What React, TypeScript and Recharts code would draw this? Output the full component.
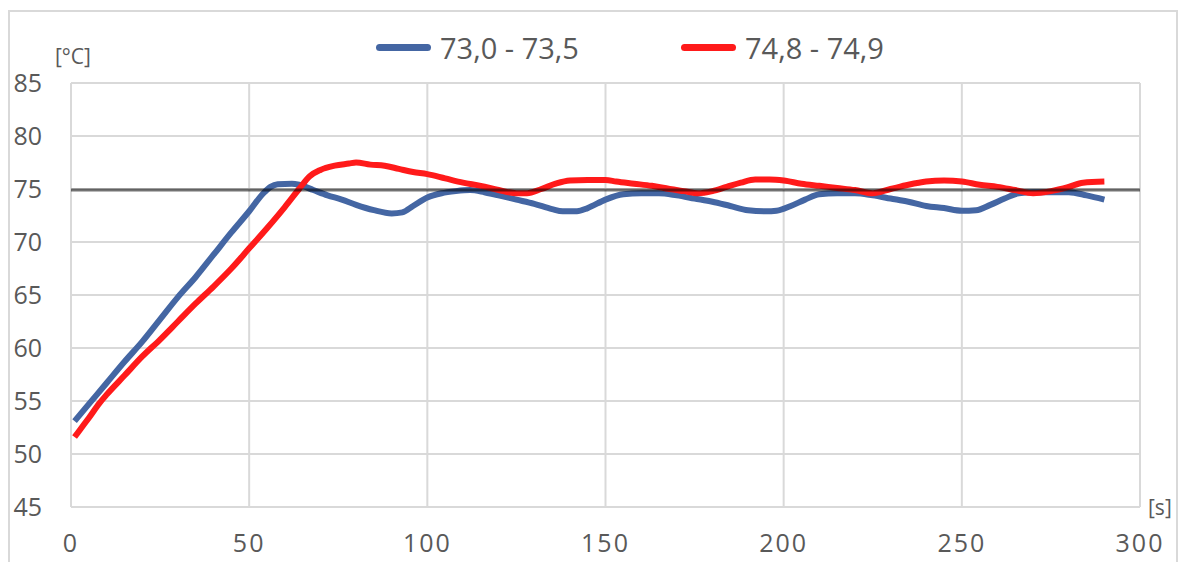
import { LineChart, Line, XAxis, YAxis, CartesianGrid } from 'recharts';

// time [s] and temperature [°C]
const blueTimes = [1, 5, 10, 15, 20, 25, 30, 35, 40, 45, 50, 54, 56, 58, 62, 64, 68, 72, 76, 80, 85, 90, 93, 96, 100, 104, 108, 112, 116, 120, 125, 130, 135, 138, 142, 145, 150, 155, 160, 165, 170, 175, 180, 185, 190, 195, 198, 202, 206, 210, 215, 220, 225, 230, 235, 240, 245, 250, 254, 258, 262, 266, 270, 275, 280, 285, 290];
const blueValues = [53.1, 54.7, 56.7, 58.7, 60.6, 62.7, 64.8, 66.7, 68.8, 70.9, 72.9, 74.6, 75.2, 75.45, 75.5, 75.4, 74.9, 74.4, 74.0, 73.5, 73.0, 72.7, 72.8, 73.4, 74.2, 74.6, 74.8, 74.9, 74.7, 74.4, 74.0, 73.6, 73.1, 72.9, 72.9, 73.2, 74.0, 74.5, 74.6, 74.6, 74.4, 74.1, 73.8, 73.4, 73.0, 72.9, 72.95, 73.4, 74.0, 74.5, 74.6, 74.6, 74.4, 74.1, 73.8, 73.4, 73.2, 72.95, 73.0, 73.5, 74.1, 74.6, 74.7, 74.7, 74.7, 74.4, 74.0];

const redTimes = [1, 3, 5, 8, 10, 15, 20, 25, 30, 35, 40, 45, 50, 55, 60, 64, 67, 70, 74, 78, 80, 84, 88, 92, 96, 100, 105, 110, 115, 120, 125, 128, 132, 136, 140, 145, 150, 153, 158, 163, 168, 172, 176, 180, 184, 188, 192, 196, 200, 205, 210, 215, 220, 225, 230, 235, 240, 245, 250, 255, 260, 265, 270, 275, 280, 284, 290];
const redValues = [51.6, 52.5, 53.4, 54.8, 55.6, 57.4, 59.2, 60.8, 62.5, 64.2, 65.8, 67.5, 69.4, 71.3, 73.3, 75.0, 76.2, 76.8, 77.2, 77.4, 77.5, 77.3, 77.2, 76.9, 76.6, 76.4, 76.0, 75.6, 75.3, 74.9, 74.6, 74.6, 75.0, 75.5, 75.8, 75.85, 75.85, 75.7, 75.5, 75.3, 75.0, 74.8, 74.6, 74.8, 75.2, 75.6, 75.9, 75.9, 75.8, 75.5, 75.3, 75.1, 74.9, 74.6, 75.0, 75.4, 75.7, 75.8, 75.7, 75.4, 75.2, 74.9, 74.6, 74.8, 75.2, 75.6, 75.7];

const setpointTimes = [0, 300];
const setpointValue = 74.9;

const xTicks = [0, 50, 100, 150, 200, 250, 300];
const yTicks = [45, 50, 55, 60, 65, 70, 75, 80, 85];

const series = [
  { name: '73,0 - 73,5', color: '#4466A3', times: blueTimes, values: blueValues },
  { name: '74,8 - 74,9', color: '#FF1A1A', times: redTimes, values: redValues },
];

const FONT = '"Open Sans", "Noto Sans", sans-serif';
const TEXT = '#595959';

export default function App() {
  const setpoint = setpointTimes.map((t) => ({ t, v: setpointValue }));
  return (
    <div style={{ position: 'absolute', left: 0, top: 0, width: 1181, height: 562, overflow: 'hidden', background: '#fff', fontFamily: FONT }}>
      <div style={{ position: 'absolute', left: 8, top: 10, width: 1170, height: 620, border: '2px solid #d9d9d9', boxSizing: 'border-box' }} />
      {/* legend */}
      {series.map((s, i) => (
        <div key={s.name} style={{ position: 'absolute', left: i === 0 ? 376 : 681, top: 28, display: 'flex', alignItems: 'center', height: 38 }}>
          <span style={{ width: 55, height: 7, borderRadius: 4, background: s.color, display: 'inline-block' }} />
          <span style={{ marginLeft: 9, fontSize: 29, color: TEXT }}>{s.name}</span>
        </div>
      ))}
      <div style={{ position: 'absolute', left: 55, top: 42, fontSize: 21, color: TEXT }}>[°C]</div>
      <div style={{ position: 'absolute', left: 1148, top: 493, fontSize: 21, color: TEXT }}>[s]</div>
      <div style={{ position: 'absolute', left: 0, top: 0 }}>
        <LineChart width={1181} height={562} margin={{ top: 83, right: 41, bottom: 15, left: 11 }}>
          <CartesianGrid stroke="#d9d9d9" strokeWidth={2} />
          <XAxis
            type="number"
            dataKey="t"
            domain={[0, 300]}
            ticks={xTicks}
            allowDuplicatedCategory={false}
            axisLine={false}
            tickLine={false}
            tickSize={0}
            tickMargin={27}
            height={40}
            tick={{ fill: TEXT, fontSize: 25, fontFamily: FONT, letterSpacing: 2 }}
          />
          <YAxis
            type="number"
            domain={[45, 85]}
            ticks={yTicks}
            axisLine={false}
            tickLine={false}
            tickSize={0}
            tickMargin={29}
            width={60}
            tick={{ fill: TEXT, fontSize: 25, fontFamily: FONT }}
          />
          {series.map((s) => (
            <Line
              key={s.name}
              data={s.times.map((t, i) => ({ t, v: s.values[i] }))}
              dataKey="v"
              name={s.name}
              type="monotone"
              stroke={s.color}
              strokeWidth={6}
              dot={false}
              isAnimationActive={false}
            />
          ))}
          <Line
            data={setpoint}
            dataKey="v"
            type="linear"
            stroke="#000"
            strokeOpacity={0.55}
            strokeWidth={3}
            dot={false}
            isAnimationActive={false}
          />
        </LineChart>
      </div>
    </div>
  );
}
